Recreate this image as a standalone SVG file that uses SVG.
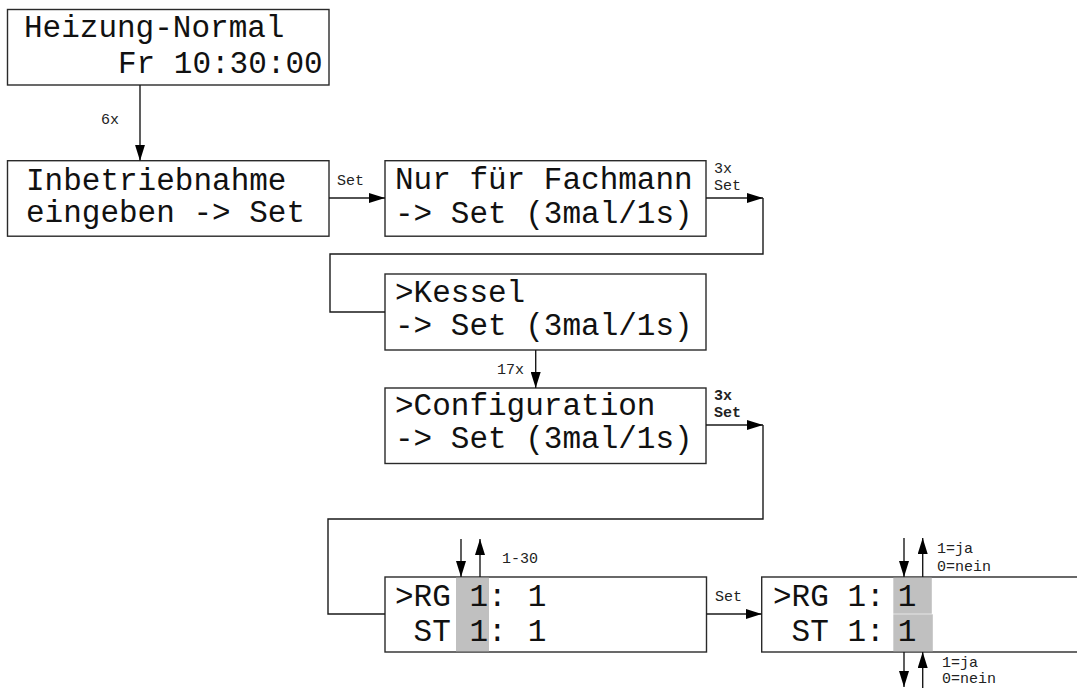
<svg xmlns="http://www.w3.org/2000/svg" width="1077" height="688" viewBox="0 0 1077 688">
<style>
.box{fill:#fff;stroke:#2a2a2a;stroke-width:1.4}
.hl{fill:#c0c0c0;stroke:none}
.t{font-family:"Liberation Mono","Courier New",monospace;font-size:31px;fill:#111}
.s{font-family:"Liberation Mono","Courier New",monospace;font-size:15px;fill:#222}
.b{font-weight:bold}
.ln{fill:none;stroke:#1a1a1a;stroke-width:1.4}
</style>
<defs>
<marker id="ah" markerUnits="userSpaceOnUse" markerWidth="16" markerHeight="10" refX="16" refY="5" orient="auto">
<path d="M0,0 L16,5 L0,10 z" fill="#000"/>
</marker>
</defs>
<rect width="1077" height="688" fill="#fff"/>
<g id="n1">
<rect class="box" x="7.5" y="9.5" width="321.5" height="75.5"/>
<text class="t" x="24" y="37">Heizung-Normal</text>
<text class="t" x="118" y="73">Fr 10:30:00</text>
</g>
<g id="n2">
<rect class="box" x="7.5" y="160.7" width="321.5" height="75.5"/>
<text class="t" x="26" y="190">Inbetriebnahme</text>
<text class="t" x="26" y="222">eingeben -&gt; Set</text>
</g>
<g id="n3">
<rect class="box" x="385" y="160.7" width="321" height="75.5"/>
<text class="t" x="395" y="189">Nur für Fachmann</text>
<text class="t" x="395" y="223">-&gt; Set (3mal/1s)</text>
</g>
<g id="n4">
<rect class="box" x="385" y="274" width="321" height="76"/>
<text class="t" x="395" y="302">&gt;Kessel</text>
<text class="t" x="395" y="335">-&gt; Set (3mal/1s)</text>
</g>
<g id="n5">
<rect class="box" x="385" y="388" width="321" height="75.5"/>
<text class="t" x="395" y="415">&gt;Configuration</text>
<text class="t" x="395" y="448">-&gt; Set (3mal/1s)</text>
</g>
<g id="n6">
<rect class="box" x="385" y="577" width="321.5" height="75"/>
<rect class="hl" x="456" y="577.7" width="33" height="73.6"/>
<text class="t" x="395" y="606" xml:space="preserve">&gt;RG 1:</text>
<text class="t" x="537" y="606" text-anchor="middle">1</text>
<text class="t" x="395" y="641" xml:space="preserve"> ST 1:</text>
<text class="t" x="537" y="641" text-anchor="middle">1</text>
</g>
<g id="n7">
<rect class="box" x="761.7" y="577" width="340" height="75"/>
<rect class="hl" x="893.3" y="577.7" width="38.5" height="36"/>
<rect class="hl" x="893.3" y="614.3" width="39.5" height="37"/>
<text class="t" x="773" y="606" xml:space="preserve">&gt;RG 1:</text>
<text class="t" x="907" y="606" text-anchor="middle">1</text>
<text class="t" x="773" y="641" xml:space="preserve"> ST 1:</text>
<text class="t" x="907" y="641" text-anchor="middle">1</text>
</g>
<g id="connectors">
<path class="ln" d="M140,85 V160.7" marker-end="url(#ah)"/>
<path class="ln" d="M329,198 H385" marker-end="url(#ah)"/>
<path class="ln" d="M706,198 H763" marker-end="url(#ah)"/>
<path class="ln" d="M763,198 V254 H330 V312 H385"/>
<path class="ln" d="M535.7,350 V388" marker-end="url(#ah)"/>
<path class="ln" d="M706,425 H763" marker-end="url(#ah)"/>
<path class="ln" d="M763,425 V519 H328 V614 H385"/>
<path class="ln" d="M461,539 V577" marker-end="url(#ah)"/>
<path class="ln" d="M480,577 V539" marker-end="url(#ah)"/>
<path class="ln" d="M706.5,614 H761.7" marker-end="url(#ah)"/>
<path class="ln" d="M904,538 V577" marker-end="url(#ah)"/>
<path class="ln" d="M922.7,577 V538" marker-end="url(#ah)"/>
<path class="ln" d="M904,652 V687" marker-end="url(#ah)"/>
<path class="ln" d="M922.7,688 V652" marker-end="url(#ah)"/>
<text class="s" x="101" y="124">6x</text>
<text class="s" x="337" y="185">Set</text>
<text class="s" x="714" y="173">3x</text>
<text class="s" x="714" y="190">Set</text>
<text class="s" x="497" y="374">17x</text>
<text class="s b" x="714" y="400">3x</text>
<text class="s b" x="714" y="417">Set</text>
<text class="s" x="502" y="563">1-30</text>
<text class="s" x="715" y="601">Set</text>
<text class="s" x="937" y="553">1=ja</text>
<text class="s" x="937" y="571">0=nein</text>
<text class="s" x="942" y="667">1=ja</text>
<text class="s" x="942" y="683">0=nein</text>
</g>
</svg>
